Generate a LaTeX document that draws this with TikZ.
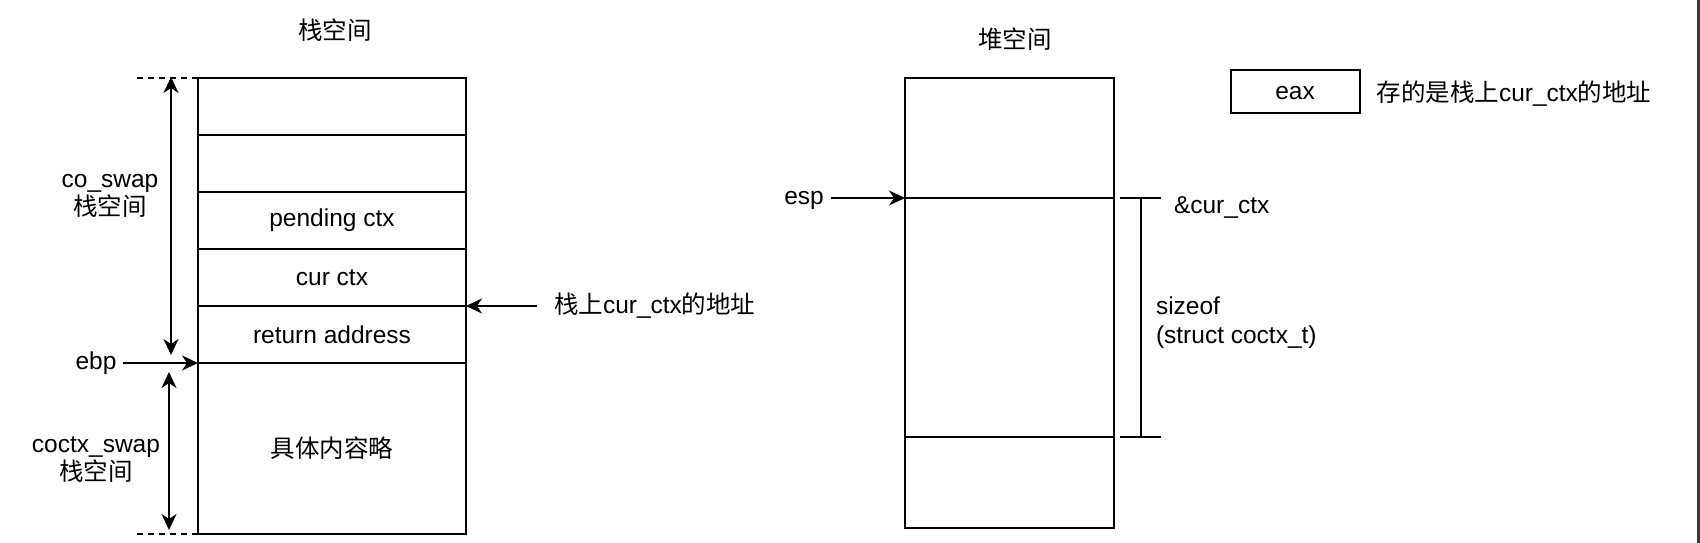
\documentclass[tikz,border=0pt]{standalone}
\usepackage{fontspec}
\setmainfont{Liberation Sans}
\newfontfamily\cjk{Noto Sans CJK SC}
\newcommand\zh[1]{{\cjk #1}}
\usepackage{tikz}
\usetikzlibrary{positioning,arrows.meta}
\definecolor{edgebar}{RGB}{55,58,63}

\begin{document}
\begin{tikzpicture}[
    x=1pt, y=-1pt, line width=2pt,
    >={Stealth[length=16pt,width=15pt,inset=5pt]},
    every node/.style={font=\fontsize{24.5}{28}\selectfont},
    ptr/.style={inner xsep=6pt, text height=12pt, text depth=0pt},
    cell/.style={draw, minimum width=268pt, minimum height=57pt, inner sep=0pt, outer sep=0pt},
    heapcell/.style={draw, minimum width=209pt, inner sep=0pt, outer sep=0pt},
    ]
    \useasboundingbox (0,0) rectangle (1700,543);
    \fill[edgebar] (1697,0) rectangle (1700,543);

    % stack
    \node (stitle) at (335,30) {\zh{栈空间}};
    \node[cell] (s1) at (332,106.5) {};
    \node[cell, below=0pt of s1] (s2) {};
    \node[cell, below=0pt of s2] (s3) {pending ctx};
    \node[cell, below=0pt of s3] (s4) {cur ctx};
    \node[cell, below=0pt of s4] (s5) {return address};
    \node[cell, below=0pt of s5, minimum height=171pt] (s6) {\zh{具体内容略}};

    \coordinate (dtop) at (137,78);
    \coordinate (dbot) at (137,534);
    \draw[dash pattern=on 6pt off 5pt] (dtop) -- (s1.north west);
    \draw[dash pattern=on 6pt off 5pt] (dbot) -- (s6.south west);

    \coordinate (cotop) at (171,77);
    \coordinate (cobot) at (171,355);
    \coordinate (cxtop) at (169,372);
    \coordinate (cxbot) at (169,530);
    \draw[<->] (cotop) -- (cobot);
    \draw[<->] (cxtop) -- (cxbot);

    \node[align=center] (coswap) at (110,196) {co\_swap\\\zh{栈空间}};
    \node[align=center] (coctxswap) at (96,460) {coctx\_swap\\\zh{栈空间}};
    \node[ptr] (ebp) at (96,363) {ebp};
    \draw[->] (ebp) -- (s6.north west);

    \node[anchor=west, inner xsep=16pt] (addr) at (537,306) {\zh{栈上}cur\_ctx\zh{的地址}};
    \draw[->] (addr) -- (s5.north east);

    % heap
    \node (htitle) at (1015,39) {\zh{堆空间}};
    \node[heapcell, minimum height=120pt] (h1) at (1009.5,138) {};
    \node[heapcell, below=0pt of h1, minimum height=239pt] (h2) {};
    \node[heapcell, below=0pt of h2, minimum height=91pt] (h3) {};

    \node[ptr] (esp) at (804,198) {esp};
    \draw[->] (esp) -- (h2.north west);

    \coordinate (ta) at (1120,198);
    \coordinate (tb) at (1161,198);
    \coordinate (tc) at (1120,437);
    \coordinate (td) at (1161,437);
    \coordinate (ma) at (1140.5,198);
    \coordinate (mb) at (1140.5,437);
    \draw (ta) -- (tb);
    \draw (tc) -- (td);
    \draw (ma) -- (mb);

    \node[anchor=base west, inner sep=0pt] (curctx) at (1173,213) {\&cur\_ctx};
    \node[anchor=west, align=left, inner sep=0pt, font=\fontsize{24.5}{29}\selectfont] (sizeof) at (1155,323) {sizeof\\(struct coctx\_t)};

    % legend
    \node[draw, minimum width=129pt, minimum height=43pt, text height=16pt, text depth=0pt] (eax) at (1295,91.3) {eax};
    \node[right=15pt of eax, inner sep=0pt, yshift=-2pt] (eaxnote) {\zh{存的是栈上}cur\_ctx\zh{的地址}};
\end{tikzpicture}
\end{document}
